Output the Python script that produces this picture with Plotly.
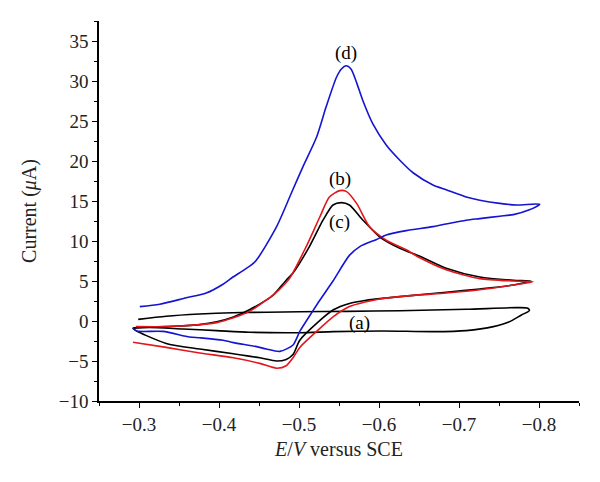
import plotly.graph_objects as go

# ---- data (E / V vs SCE, current / uA) ----
a_x = [-0.299, -0.334, -0.376, -0.417, -0.460, -0.501, -0.560, -0.626, -0.709, -0.772, -0.786, -0.788,
       -0.778, -0.763, -0.743, -0.709, -0.668, -0.605, -0.543, -0.501, -0.438, -0.397, -0.355, -0.313, -0.2925]
a_y = [0.2, 0.6, 0.875, 1.04, 1.1, 1.16, 1.2, 1.29, 1.46, 1.67, 1.6, 1.3,
       0.75, -0.1, -0.7, -1.2, -1.33, -1.25, -1.33, -1.46, -1.4, -1.2, -1.0, -0.8, -0.9]

b_x = [-0.296, -0.334, -0.376, -0.397, -0.418, -0.438, -0.459, -0.475, -0.488, -0.509, -0.526, -0.538,
       -0.551, -0.559, -0.572, -0.588, -0.609, -0.634, -0.651, -0.684, -0.726, -0.768, -0.7925,
       -0.768, -0.726, -0.684, -0.643, -0.601, -0.584, -0.563, -0.543, -0.522, -0.501, -0.4925,
       -0.484, -0.472, -0.451, -0.418, -0.376, -0.334, -0.2925]
b_y = [-0.7, -0.7, -0.45, -0.2, 0.4, 1.2, 2.6, 3.9, 5.3, 9.3, 13.0, 15.5,
       16.3, 16.2, 14.7, 11.8, 10.1, 8.9, 7.9, 6.4, 5.3, 5.0, 4.9,
       4.5, 3.9, 3.5, 3.2, 2.75, 2.4, 1.8, 0.54, -1.3, -3.3, -4.6,
       -5.6, -5.9, -5.3, -4.6, -4.0, -3.3, -2.65]

c_x = [-0.2925, -0.334, -0.376, -0.397, -0.418, -0.438, -0.459, -0.468, -0.484, -0.4925, -0.513, -0.530,
       -0.5425, -0.553, -0.563, -0.580, -0.601, -0.626, -0.651, -0.684, -0.726, -0.768, -0.790,
       -0.768, -0.726, -0.684, -0.643, -0.601, -0.584, -0.563, -0.543, -0.522, -0.501, -0.4925,
       -0.484, -0.472, -0.451, -0.418, -0.376, -0.334, -0.2925]
c_y = [-0.9, -0.7, -0.45, -0.1, 0.5, 1.4, 2.6, 3.25, 5.1, 6.0, 9.3, 12.6,
       14.5, 14.8, 14.5, 12.6, 10.5, 9.1, 8.1, 6.6, 5.5, 5.1, 5.0,
       4.5, 4.0, 3.6, 3.2, 2.8, 2.6, 2.2, 1.4, -0.3, -2.4, -4.2,
       -4.8, -5.0, -4.6, -4.1, -3.5, -2.8, -0.9]

d_x = [-0.301, -0.326, -0.359, -0.384, -0.405, -0.4175, -0.430, -0.445, -0.472, -0.4905, -0.505, -0.522,
       -0.534, -0.547, -0.553, -0.559, -0.565, -0.572, -0.580, -0.5925, -0.609, -0.626, -0.643, -0.6675,
       -0.684, -0.709, -0.726, -0.751, -0.772, -0.801,
       -0.788, -0.768, -0.751, -0.726, -0.709, -0.6675, -0.634, -0.609, -0.597, -0.576, -0.563, -0.5425,
       -0.526, -0.5175, -0.501, -0.4925, -0.476, -0.459, -0.447, -0.418, -0.405, -0.376, -0.363, -0.33,
       -0.297, -0.2925]
d_y = [1.8, 2.1, 2.9, 3.5, 4.6, 5.5, 6.3, 7.4, 11.8, 16.0, 19.3, 23.0,
       26.8, 30.5, 31.5, 31.9, 31.5, 29.8, 27.5, 24.6, 22.0, 20.1, 18.5, 17.0,
       16.4, 15.5, 15.1, 14.7, 14.5, 14.6,
       13.9, 13.3, 13.1, 12.8, 12.6, 11.8, 11.3, 10.75, 10.2, 9.3, 8.2, 5.0,
       2.6, 1.3, -1.3, -3.0, -3.8, -3.5, -3.2, -2.7, -2.4, -2.1, -2.0, -1.3,
       -1.25, -0.9]

labels = ["(a)", "(b)", "(c)", "(d)"]
label_x = [-0.576, -0.551, -0.551, -0.559]
label_y = [-0.2, 17.8, 12.4, 33.5]

x_ticks = [-0.3, -0.4, -0.5, -0.6, -0.7, -0.8]
x_ticktext = ["\u22120.3", "\u22120.4", "\u22120.5", "\u22120.6", "\u22120.7", "\u22120.8"]
y_ticks = [-10, -5, 0, 5, 10, 15, 20, 25, 30, 35]
y_ticktext = ["\u221210", "\u22125", "0", "5", "10", "15", "20", "25", "30", "35"]

FONT = "Liberation Serif"

fig = go.Figure()
for xs, ys, col in [(a_x, a_y, "#000000"), (c_x, c_y, "#000000"),
                    (b_x, b_y, "#e3161b"), (d_x, d_y, "#1414d2")]:
    fig.add_trace(go.Scatter(x=xs, y=ys, mode="lines",
                             line=dict(color=col, width=1.6, shape="spline", smoothing=0.7),
                             hoverinfo="skip", showlegend=False))

for t, lx, ly in zip(labels, label_x, label_y):
    fig.add_annotation(x=lx, y=ly, text=t, showarrow=False,
                       font=dict(family=FONT, size=19, color="#000"))

axis_common = dict(showline=True, linecolor="#000", linewidth=1.5, ticks="outside",
                   ticklen=5, tickwidth=1.3, tickcolor="#000", showgrid=False, zeroline=False,
                   tickfont=dict(family=FONT, size=19, color="#222"))

fig.update_xaxes(range=[-0.25, -0.85], tickvals=x_ticks, ticktext=x_ticktext,
                 minor=dict(dtick=0.05, tick0=-0.25, ticks="outside", ticklen=3, tickwidth=1.2, tickcolor="#000"),
                 title=dict(text="<i>E</i>/<i>V</i> versus SCE", font=dict(family=FONT, size=20, color="#222"),
                            standoff=8),
                 **axis_common)
fig.update_yaxes(range=[-10, 37.5], tickvals=y_ticks, ticktext=y_ticktext,
                 minor=dict(dtick=2.5, tick0=0, ticks="outside", ticklen=3, tickwidth=1.2, tickcolor="#000"),
                 title=dict(text="Current (<i>\u03bc</i>A)", font=dict(family=FONT, size=20, color="#222"),
                            standoff=17),
                 **axis_common)

# page body has an 8px default margin, so the figure is 8px smaller than the window
fig.update_layout(width=592, height=474, margin=dict(l=91, r=21, t=13, b=81),
                  plot_bgcolor="white", paper_bgcolor="white")

fig.write_html("out.html")
